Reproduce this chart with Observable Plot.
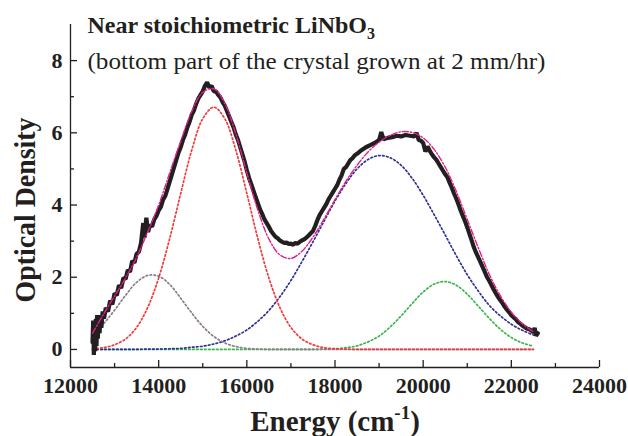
<!DOCTYPE html>
<html><head><meta charset="utf-8">
<script src="https://cdn.jsdelivr.net/npm/d3@7"></script>
<script src="https://cdn.jsdelivr.net/npm/@observablehq/plot@0.6"></script>
<style>body{margin:0;background:#fff}#chart{width:628px;height:436px}</style>
</head><body><div id="chart"></div>
<script>
// ---- data ----
const xTicksMajor = [12000, 14000, 16000, 18000, 20000, 22000, 24000];
const xTicksMinor = [13000, 15000, 17000, 19000, 21000, 23000];
const yTicksMajor = [0, 2, 4, 6, 8];
const yTicksMinor = [1, 3, 5, 7];

const energyGrid = [12500,12750,13000,13250,13500,13750,14000,14250,14500,14750,15000,15250,15500,15750,16000,16250,16500,16750,17000,17250,17500,17750,18000,18250,18500,18750,19000,19250,19500,19750,20000,20250,20500,20750,21000,21250,21500,21750,22000,22250,22500];
const peakGrey  = [0.41,0.71,1.09,1.50,1.86,2.05,2.03,1.80,1.42,1.01,0.64,0.36,0.18,0.08,0.03,0.01,0,0,0,0,0,0,0,0,0,0,0,0,0,0,0,0,0,0,0,0,0,0,0,0,0];
const peakRed   = [0.02,0.05,0.13,0.29,0.61,1.16,1.98,3.07,4.32,5.52,6.39,6.71,6.39,5.52,4.32,3.07,1.98,1.16,0.61,0.29,0.13,0.05,0.02,0.01,0,0,0,0,0,0,0,0,0,0,0,0,0,0,0,0,0];
const peakBlue  = [0,0,0,0,0,0.01,0.01,0.02,0.03,0.06,0.09,0.15,0.24,0.37,0.54,0.78,1.08,1.46,1.91,2.43,2.98,3.55,4.11,4.60,5.00,5.26,5.37,5.31,5.10,4.74,4.27,3.73,3.17,2.60,2.07,1.62,1.22,0.93,0.70,0.53,0.40];
const peakGreen = [0,0,0,0,0,0,0,0,0,0,0,0,0,0,0,0,0,0,0,0,0,0.01,0.02,0.05,0.10,0.21,0.37,0.62,0.93,1.27,1.59,1.81,1.88,1.78,1.53,1.20,0.86,0.56,0.33,0.18,0.09];
const fitSum    = [0.45,0.98,1.48,1.98,2.55,3.25,4.00,4.89,5.77,6.59,7.12,7.22,6.81,5.97,4.89,3.86,3.06,2.62,2.52,2.72,3.11,3.61,4.15,4.66,5.10,5.47,5.74,5.93,6.03,6.01,5.86,5.54,5.05,4.38,3.60,2.82,2.08,1.49,1.03,0.71,0.49];

const dataEnergy = [12500,12515,12530,12545,12560,12575,12590,12605,12620,12640,12660,12680,12700,12730,12760,12800,12850,12900,12950,13000,13050,13100,13150,13200,13250,13300,13350,13400,13450,13500,13550,13600,13650,13680,13720,13760,13800,13850,13900,13950,14000,14050,14100,14150,14200,14250,14300,14350,14400,14450,14500,14550,14600,14650,14700,14750,14800,14850,14900,14950,15000,15050,15100,15150,15200,15250,15300,15350,15400,15450,15500,15550,15600,15650,15700,15750,15800,15850,15900,15950,16000,16050,16100,16150,16200,16250,16300,16350,16400,16450,16500,16550,16600,16650,16700,16750,16800,16850,16900,16950,17000,17050,17100,17150,17200,17250,17300,17350,17400,17450,17500,17550,17600,17650,17700,17750,17800,17850,17900,17950,18000,18050,18100,18150,18200,18250,18300,18350,18400,18450,18500,18600,18700,18800,18900,19000,19050,19100,19200,19300,19400,19500,19600,19700,19800,19850,19900,19950,20000,20050,20100,20150,20200,20250,20300,20350,20400,20450,20500,20550,20600,20650,20700,20750,20800,20850,20900,20950,21000,21050,21100,21150,21200,21250,21300,21350,21400,21450,21500,21550,21600,21650,21700,21750,21800,21850,21900,21950,22000,22050,22100,22150,22200,22250,22300,22350,22400,22450,22500,22530,22560,22600];
const dataOD = [0.20,0.80,-0.15,0.65,-0.05,0.85,0.10,0.95,0.30,0.90,0.45,0.95,0.60,1.05,0.85,1.15,1.05,1.35,1.25,1.55,1.50,1.78,1.70,1.98,1.95,2.20,2.15,2.45,2.40,2.65,2.70,2.95,3.50,3.10,3.65,3.25,3.45,3.40,3.60,3.70,3.85,3.95,4.15,4.25,4.45,4.65,4.85,5.05,5.25,5.45,5.60,5.80,5.95,6.15,6.30,6.50,6.62,6.80,6.95,7.05,7.15,7.30,7.40,7.25,7.30,7.15,7.15,7.05,6.98,6.85,6.75,6.60,6.45,6.30,6.15,5.95,5.80,5.60,5.40,5.20,4.96,4.75,4.58,4.40,4.22,4.05,3.88,3.75,3.60,3.50,3.40,3.28,3.20,3.12,3.08,3.02,2.98,2.95,2.96,2.92,2.93,2.90,2.95,2.93,2.98,3.02,3.05,3.10,3.15,3.22,3.28,3.42,3.58,3.72,3.82,3.92,4.02,4.15,4.25,4.35,4.45,4.55,4.70,4.82,5.00,5.05,5.15,5.25,5.30,5.38,5.42,5.52,5.60,5.66,5.72,5.80,6.02,5.82,5.86,5.88,5.92,5.90,5.94,5.92,5.90,6.00,5.80,5.78,5.72,5.48,5.62,5.50,5.40,5.32,5.25,5.15,5.05,4.95,4.85,4.77,4.62,4.48,4.32,4.18,4.02,3.85,3.70,3.55,3.38,3.20,3.02,2.83,2.68,2.55,2.42,2.28,2.14,2.00,1.90,1.78,1.66,1.55,1.45,1.36,1.28,1.18,1.10,1.03,0.95,0.89,0.84,0.76,0.72,0.66,0.62,0.58,0.56,0.53,0.48,0.60,0.38,0.45];

const titleText = "Near stoichiometric LiNbO";
const titleSub = "3";
const subtitleText = "(bottom part of the crystal grown at 2 mm/hr)";
const xLabel = "Energy (cm";
const xLabelSup = "-1";
const yLabel = "Optical Density";

// ---- layout ----
const W = 628, H = 436;
const mL = 70, mR = 29, mT = 24, mB = 69;
const frameW = W - mL - mR, frameH = H - mT - mB;
const serif = "'Liberation Serif','Times New Roman',Times,serif";
const ink = "#231f20";

const series = (vals) => energyGrid.map((e, i) => ({e, v: vals[i]}));
const dataRows = dataEnergy.map((e, i) => ({e, v: dataOD[i]}));
const dotted = {x: "e", y: "v", curve: "catmull-rom", strokeWidth: 1.7, strokeDasharray: "1.6,2.4"};

const plot = Plot.plot({
  width: W, height: H,
  marginLeft: mL, marginRight: mR, marginTop: mT, marginBottom: mB,
  style: {fontFamily: serif, background: "#fff", color: ink, overflow: "visible"},
  x: {domain: [12000, 24000], axis: null},
  y: {domain: [-0.5, 9], axis: null},
  marks: [
    Plot.line(series(peakGreen), {...dotted, stroke: "#3ab54a"}),
    Plot.line(series(peakBlue), {...dotted, stroke: "#2e3192"}),
    Plot.line(series(peakGrey), {...dotted, stroke: "#8a7a8a"}),
    Plot.line(series(peakRed), {...dotted, stroke: "#ef3b3b"}),
    Plot.line(dataRows, {x: "e", y: "v", stroke: ink, strokeWidth: 4.2, strokeLinejoin: "miter"}),
    Plot.line(series(fitSum), {x: "e", y: "v", curve: "catmull-rom", stroke: "#e0208a", strokeWidth: 1.4, strokeDasharray: "6,2,1.5,2"}),
    Plot.ruleX([12000], {stroke: ink, strokeWidth: 1.3}),
    Plot.ruleY([-0.5], {stroke: ink, strokeWidth: 1.3}),
    Plot.tickX(xTicksMajor, {x: d => d, insetTop: frameH - 7, stroke: ink, strokeWidth: 1.3}),
    Plot.tickX(xTicksMinor, {x: d => d, insetTop: frameH - 4, stroke: ink, strokeWidth: 1.3}),
    Plot.tickY(yTicksMajor, {y: d => d, insetRight: frameW - 7, stroke: ink, strokeWidth: 1.3}),
    Plot.tickY(yTicksMinor, {y: d => d, insetRight: frameW - 4, stroke: ink, strokeWidth: 1.3}),
    Plot.text(xTicksMajor, {x: d => d, frameAnchor: "bottom", dy: 10, lineAnchor: "top", textAnchor: "middle", text: d => String(d), fontSize: 22, fontWeight: "bold", fill: ink}),
    Plot.text(yTicksMajor, {y: d => d, frameAnchor: "left", dx: -8, lineAnchor: "middle", textAnchor: "end", text: d => String(d), fontSize: 22, fontWeight: "bold", fill: ink}),
    Plot.text([titleText], {frameAnchor: "top-left", dx: 17, dy: 8, lineAnchor: "bottom", textAnchor: "start", fontSize: 24, fontWeight: "bold", fill: ink}),
    Plot.text([subtitleText], {frameAnchor: "top-left", dx: 17, dy: 44, lineAnchor: "bottom", textAnchor: "start", fontSize: 24, fill: ink}),
    Plot.text([xLabel], {frameAnchor: "bottom", dy: 63, lineAnchor: "bottom", textAnchor: "middle", fontSize: 29, fontWeight: "bold", fill: ink}),
    Plot.text([yLabel], {frameAnchor: "left", dx: -36, dy: 14, rotate: -90, lineAnchor: "bottom", textAnchor: "middle", fontSize: 29, fontWeight: "bold", fill: ink})
  ]
});

document.getElementById("chart").append(plot);

const root = d3.select(plot);
// subscripts / superscripts
root.selectAll("text").each(function () {
  const t = d3.select(this);
  const s = this.textContent;
  if (s === titleText) {
    t.append("tspan").attr("dy", 6).attr("font-size", 16).text(titleSub);
  } else if (s === xLabel) {
    t.append("tspan").attr("dy", -12).attr("font-size", 19).text(xLabelSup);
    t.append("tspan").attr("dy", 12).text(")");
  } else if (s === subtitleText) {
    t.attr("textLength", 458).attr("lengthAdjust", "spacingAndGlyphs");
  } else if (s === yLabel) {
    t.attr("textLength", 185).attr("lengthAdjust", "spacingAndGlyphs");
  }
});
</script>
</body></html>
